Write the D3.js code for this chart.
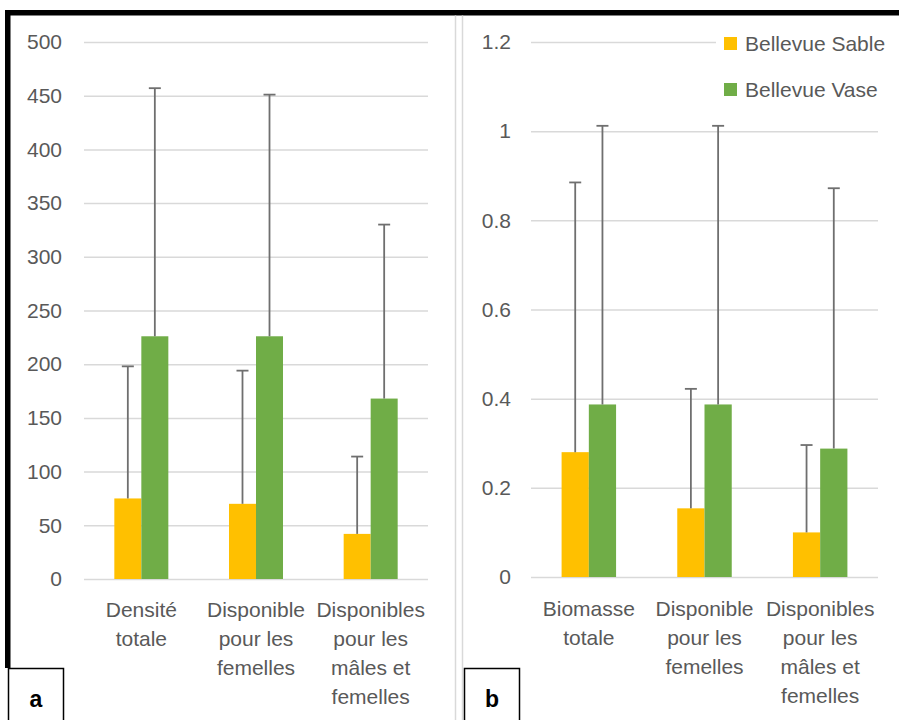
<!DOCTYPE html>
<html>
<head>
<meta charset="utf-8">
<script src="https://cdn.jsdelivr.net/npm/d3@7"></script>
<style>
  html, body { margin: 0; padding: 0; background: #fff; }
  svg { display: block; }
  text { font-family: "Liberation Sans", Arial, sans-serif; }
</style>
</head>
<body>
<svg id="fig" width="899" height="720"></svg>
<script>
// Series names and colours
const seriesNames = ["Bellevue Sable", "Bellevue Vase"];
const seriesColors = ["#FFC000", "#70AD47"];

// Panel a: densities
const categoriesA = [["Densité", "totale"], ["Disponible", "pour les", "femelles"], ["Disponibles", "pour les", "mâles et", "femelles"]];
const sableA = [75, 70, 42];
const sableAErr = [123, 124, 72];
const vaseA = [226, 226, 168];
const vaseAErr = [231, 225, 162];
const ticksA = [0, 50, 100, 150, 200, 250, 300, 350, 400, 450, 500];

// Panel b: biomass
const categoriesB = [["Biomasse", "totale"], ["Disponible", "pour les", "femelles"], ["Disponibles", "pour les", "mâles et", "femelles"]];
const sableB = [0.28, 0.154, 0.10];
const sableBErr = [0.605, 0.268, 0.196];
const vaseB = [0.387, 0.387, 0.288];
const vaseBErr = [0.625, 0.625, 0.584];
const ticksB = [0, 0.2, 0.4, 0.6, 0.8, 1, 1.2];

const svg = d3.select("#fig");
const textColor = "#595959";
const gridColor = "#d9d9d9";
const errColor = "#6f6f6f";
const fontSize = 21;

function drawPanel(cfg) {
  const g = svg.append("g");
  const y = d3.scaleLinear().domain([0, cfg.max]).range([cfg.y0, cfg.y1]);
  const x = d3.scaleBand()
    .domain(d3.range(cfg.cats.length))
    .range([cfg.x0, cfg.x1])
    .paddingInner(0.529)
    .paddingOuter(0.2645);
  const xs = d3.scaleBand().domain([0, 1]).range([0, x.bandwidth()]);

  // gridlines and tick labels
  const axis = d3.axisLeft(y)
    .tickValues(cfg.ticks)
    .tickFormat(cfg.fmt)
    .tickSize(-(cfg.x1 - cfg.x0))
    .tickPadding(cfg.pad);
  const ax = g.append("g").attr("transform", `translate(${cfg.x0},0)`).call(axis);
  ax.select(".domain").remove();
  ax.selectAll(".tick line").attr("stroke", gridColor).attr("stroke-width", 1.5);
  ax.selectAll(".tick text")
    .attr("fill", textColor)
    .attr("font-size", fontSize)
    .style("font-family", "'Liberation Sans', Arial, sans-serif");

  // bars
  const series = [
    { vals: cfg.sable, errs: cfg.sableErr, color: seriesColors[0] },
    { vals: cfg.vase, errs: cfg.vaseErr, color: seriesColors[1] }
  ];
  series.forEach((s, si) => {
    const bars = g.append("g");
    bars.selectAll("rect")
      .data(s.vals)
      .join("rect")
      .attr("x", (d, i) => x(i) + xs(si))
      .attr("width", xs.bandwidth())
      .attr("y", d => y(d))
      .attr("height", d => y(0) - y(d))
      .attr("fill", s.color);
  });

  // plus-direction error bars
  series.forEach((s, si) => {
    const eg = g.append("g").attr("stroke", errColor).attr("stroke-width", 1.8);
    s.vals.forEach((v, i) => {
      const cx = x(i) + xs(si) + xs.bandwidth() / 2;
      const top = y(v + s.errs[i]);
      eg.append("line").attr("x1", cx).attr("x2", cx).attr("y1", y(v)).attr("y2", top);
      eg.append("line").attr("x1", cx - 6).attr("x2", cx + 6).attr("y1", top).attr("y2", top);
    });
  });

  // category labels
  cfg.cats.forEach((lines, i) => {
    const t = g.append("text")
      .attr("text-anchor", "middle")
      .attr("fill", textColor)
      .attr("font-size", fontSize);
    lines.forEach((ln, li) => {
      t.append("tspan")
        .attr("x", x(i) + x.bandwidth() / 2)
        .attr("y", cfg.labelY + li * 29)
        .text(ln);
    });
  });
  return g;
}

drawPanel({
  cats: categoriesA, sable: sableA, sableErr: sableAErr, vase: vaseA, vaseErr: vaseAErr,
  ticks: ticksA, max: 500, fmt: d3.format("d"),
  x0: 84, x1: 428, y0: 579, y1: 42, pad: 22, labelY: 617
});

const panelB = drawPanel({
  cats: categoriesB, sable: sableB, sableErr: sableBErr, vase: vaseB, vaseErr: vaseBErr,
  ticks: ticksB, max: 1.2, fmt: d3.format("~g"),
  x0: 531, x1: 878, y0: 577, y1: 42, pad: 20, labelY: 616
});

// legend (white background hides the top gridline behind it)
const legend = panelB.append("g");
legend.append("rect").attr("x", 716).attr("y", 26).attr("width", 170).attr("height", 82).attr("fill", "#fff");
seriesNames.forEach((name, i) => {
  const ly = 37 + i * 46;
  legend.append("rect").attr("x", 724).attr("y", ly).attr("width", 13).attr("height", 13).attr("fill", seriesColors[i]);
  legend.append("text").attr("x", 745).attr("y", ly + 14)
    .attr("fill", textColor).attr("font-size", fontSize).text(name);
});

// frame: thick black top and left borders, light panel separators
svg.append("rect").attr("x", 5).attr("y", 10).attr("width", 894).attr("height", 5.5).attr("fill", "#000");
svg.append("rect").attr("x", 5).attr("y", 10).attr("width", 5.5).attr("height", 658).attr("fill", "#000");
[455.5, 462.5].forEach(px => {
  svg.append("line").attr("x1", px).attr("x2", px).attr("y1", 15.5).attr("y2", 720)
    .attr("stroke", gridColor).attr("stroke-width", 1.5);
});

// panel letters
[["a", 8.5, 36], ["b", 464.5, 492]].forEach(([lbl, bx, tx]) => {
  svg.append("rect").attr("x", bx).attr("y", 668.5).attr("width", 55).attr("height", 60)
    .attr("fill", "#fff").attr("stroke", "#000").attr("stroke-width", 1.5);
  svg.append("text").attr("x", tx).attr("y", 707).attr("text-anchor", "middle")
    .attr("font-size", 23).attr("font-weight", "bold").attr("fill", "#000").text(lbl);
});
</script>
</body>
</html>
